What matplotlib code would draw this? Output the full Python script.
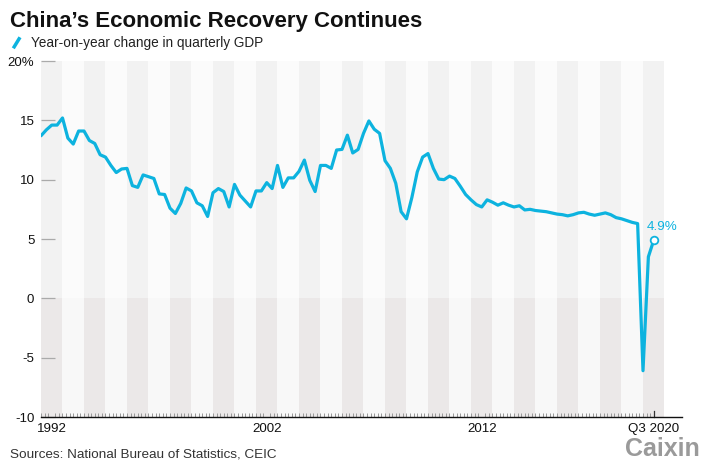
import matplotlib
matplotlib.use("Agg")
import matplotlib.pyplot as plt
import numpy as np
from matplotlib.lines import Line2D

plt.rcParams['font.family'] = ['Liberation Sans', 'DejaVu Sans']

# ---------------- data ----------------
start_year = 1992
gdp_growth = [
    13.7, 14.2, 14.6, 14.6,   # 1992
    15.2, 13.5, 13.0, 14.1,   # 1993
    14.1, 13.3, 13.05, 12.1,  # 1994
    11.9, 11.2, 10.6, 10.9,   # 1995
    10.95, 9.5, 9.35, 10.4,   # 1996
    10.25, 10.1, 8.8, 8.75,   # 1997
    7.6, 7.15, 8.0, 9.3,      # 1998
    9.05, 8.05, 7.8, 6.9,     # 1999
    8.9, 9.25, 9.0, 7.7,      # 2000
    9.6, 8.7, 8.2, 7.7,       # 2001
    9.05, 9.05, 9.75, 9.25,   # 2002
    11.2, 9.35, 10.15, 10.15, # 2003
    10.7, 11.65, 9.95, 9.0,   # 2004
    11.2, 11.2, 10.95, 12.5,  # 2005
    12.55, 13.75, 12.25, 12.55, # 2006
    13.9, 14.95, 14.25, 13.9, # 2007
    11.6, 10.95, 9.7, 7.3,    # 2008
    6.7, 8.5, 10.65, 11.9,    # 2009
    12.2, 10.95, 10.05, 10.0, # 2010
    10.3, 10.1, 9.45, 8.75,   # 2011
    8.3, 7.9, 7.7, 8.3,       # 2012
    8.1, 7.85, 8.05, 7.85,    # 2013
    7.7, 7.8, 7.45, 7.5,      # 2014
    7.4, 7.35, 7.3, 7.2,      # 2015
    7.1, 7.05, 6.95, 7.05,    # 2016
    7.2, 7.25, 7.1, 7.0,      # 2017
    7.1, 7.2, 7.05, 6.8,      # 2018
    6.7, 6.55, 6.4, 6.3,      # 2019
    -6.1, 3.5, 4.9,           # 2020
]
band_years = list(range(1992, 2021))
y_ticks = [-10, -5, 0, 5, 10, 15, 20]
y_tick_labels = ['-10', '-5', '0', '5', '10', '15', '20%']
x_label_pos = [1992.5, 2002.5, 2012.5, 2020.5]
x_labels = ['1992', '2002', '2012', 'Q3 2020']
last_label = '4.9%'

title = 'China\u2019s Economic Recovery Continues'
subtitle = 'Year-on-year change in quarterly GDP'
source = 'Sources: National Bureau of Statistics, CEIC'
brand = 'Caixin'

# ---------------- style ----------------
BLUE = '#0db3df'
W, H = 706, 470
fig = plt.figure(figsize=(W / 100, H / 100), dpi=100)
ax = fig.add_axes([41 / W, 53 / H, 641 / W, 356 / H])
ax.set_xlim(1992, 1992 + 641 / 21.5)
ax.set_ylim(-10, 20)

for k, yr in enumerate(band_years):
    dark = (k % 2 == 0)
    ax.bar(yr, 20, width=1, bottom=0, align='edge',
           color='#f2f2f2' if dark else '#fbfbfb', linewidth=0, zorder=0)
    ax.bar(yr, -10, width=1, bottom=0, align='edge',
           color='#ebe8e8' if dark else '#f8f8f8', linewidth=0, zorder=0)

x = start_year + np.arange(len(gdp_growth)) / 4.0
ax.plot(x, gdp_growth, color=BLUE, lw=2.3, solid_joinstyle='round',
        solid_capstyle='round', zorder=3)
ax.plot(x[-1], gdp_growth[-1], 'o', mfc='white', mec=BLUE, ms=5.5,
        mew=1.3, zorder=4)
ax.annotate(last_label, (x[-1], gdp_growth[-1]), xytext=(-7, 10),
            textcoords='offset pixels', color=BLUE, fontsize=9.7,
            ha='left', va='baseline')

# y axis
ax.set_yticks(y_ticks, y_tick_labels)
ax.tick_params(axis='y', direction='in', length=10.4, width=0.9,
               color='#aaaaaa', pad=4.8, labelsize=9.5, labelcolor='#111111')

# x axis
ax.set_xticks(x_label_pos, x_labels)
ax.set_xticks(1992 + np.arange(0, 28.5 * 6 + 1) / 6.0, minor=True)
ax.tick_params(axis='x', which='major', length=0, pad=4,
               labelsize=9.6, labelcolor='#111111')
ax.tick_params(axis='x', which='minor', direction='in', length=3,
               width=0.7, color='#999999')
ax.plot([2020.5, 2020.5], [-10, -10 + 6 / 11.87], color='#333333', lw=0.9,
        zorder=4, clip_on=False)

for s in ['left', 'right', 'top']:
    ax.spines[s].set_visible(False)
ax.spines['bottom'].set_color('#111111')
ax.spines['bottom'].set_linewidth(1.0)
ax.spines['bottom'].set_zorder(5)

# texts
fig.text(10 / W, 1 - 27 / H, title, fontsize=16, fontweight='bold',
         va='baseline', ha='left', color='#111111')
fig.add_artist(Line2D([13.3 / W, 20 / W], [1 - 48.3 / H, 1 - 37.3 / H],
                      color=BLUE, lw=2.5, solid_capstyle='butt'))
fig.text(31 / W, 1 - 46.7 / H, subtitle, fontsize=9.8, va='baseline',
         ha='left', color='#222222')
fig.text(10 / W, 1 - 457.7 / H, source, fontsize=9.7, va='baseline',
         ha='left', color='#333333')
fig.text(700 / W, 1 - 456 / H, brand, fontsize=18, fontweight='bold',
         va='baseline', ha='right', color='#9a9a9a')

fig.savefig('out.png', dpi=100)
